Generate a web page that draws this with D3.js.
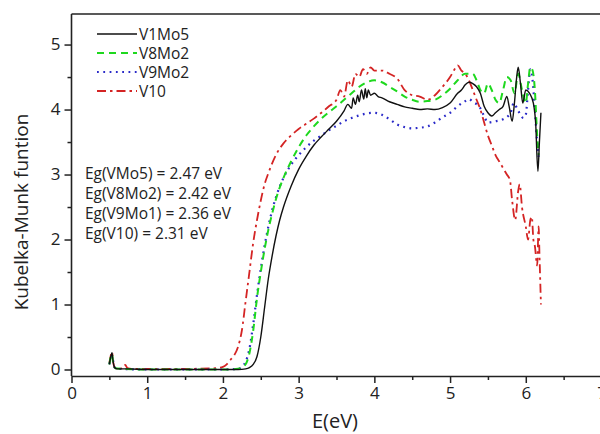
<!DOCTYPE html>
<html>
<head>
<meta charset="utf-8">
<script src="https://cdn.jsdelivr.net/npm/d3@7"></script>
<style>
  html, body { margin: 0; padding: 0; background: #fff; overflow: hidden; }
  svg { display: block; }
  text { font-family: "Open Sans", "Noto Sans", sans-serif; fill: #222; }
</style>
</head>
<body>
<svg id="chart" width="600" height="434"></svg>
<script>
// ---------- data ----------
const seriesNames = ["V1Mo5", "V8Mo2", "V9Mo2", "V10"];
const xTicks = [0, 1, 2, 3, 4, 5, 6, 7];
const yTicks = [0, 1, 2, 3, 4, 5];
const annotations = [
  "Eg(VMo5) = 2.47 eV",
  "Eg(V8Mo2) = 2.42 eV",
  "Eg(V9Mo1) = 2.36 eV",
  "Eg(V10) = 2.31 eV"
];

const v1mo5 = [
  [0.50,0.08],[0.52,0.20],[0.535,0.26],[0.55,0.12],[0.57,0.03],[0.60,0.01],[0.75,0.01],[1.0,0.0],[1.5,0.0],[2.0,0.0],
  [2.2,0.0],[2.3,0.01],[2.35,0.03],[2.4,0.08],[2.45,0.2],[2.5,0.5],[2.55,0.95],[2.6,1.4],[2.65,1.75],[2.7,2.05],
  [2.75,2.3],[2.8,2.5],[2.9,2.82],[3.0,3.08],[3.1,3.28],[3.2,3.45],[3.3,3.58],[3.4,3.7],[3.5,3.82],[3.6,3.98],
  [3.65,4.08],[3.7,4.02],[3.72,4.18],[3.75,4.08],[3.78,4.22],[3.8,4.12],[3.83,4.3],[3.86,4.16],[3.88,4.32],[3.9,4.18],
  [3.92,4.3],[3.95,4.22],[4.0,4.25],[4.05,4.2],[4.1,4.18],[4.2,4.12],[4.3,4.08],[4.4,4.04],[4.5,4.02],[4.6,4.0],
  [4.7,4.01],[4.8,4.0],[4.9,4.03],[5.0,4.1],[5.1,4.25],[5.15,4.3],[5.2,4.38],[5.25,4.42],[5.3,4.4],[5.35,4.35],
  [5.4,4.25],[5.45,4.05],[5.5,3.95],[5.55,3.9],[5.6,3.95],[5.65,4.0],[5.7,4.05],[5.75,4.2],[5.78,4.05],[5.82,3.82],
  [5.85,4.1],[5.88,4.5],[5.9,4.65],[5.93,4.4],[5.96,4.1],[6.0,4.3],[6.05,4.25],[6.1,4.1],[6.13,3.8],[6.16,3.05],
  [6.18,3.5],[6.2,3.95]
];
const v8mo2 = [
  [0.50,0.08],[0.52,0.2],[0.535,0.24],[0.55,0.1],[0.58,0.02],[0.7,0.01],[1.0,0.0],[2.0,0.0],[2.2,0.01],[2.25,0.03],
  [2.3,0.08],[2.35,0.25],[2.4,0.6],[2.45,1.1],[2.5,1.5],[2.55,1.85],[2.6,2.15],[2.65,2.4],[2.7,2.62],[2.8,2.95],
  [2.9,3.2],[3.0,3.42],[3.1,3.6],[3.2,3.74],[3.3,3.86],[3.4,3.96],[3.5,4.05],[3.6,4.15],[3.7,4.25],[3.8,4.35],
  [3.9,4.42],[4.0,4.45],[4.1,4.42],[4.2,4.35],[4.3,4.28],[4.4,4.2],[4.5,4.15],[4.6,4.12],[4.7,4.13],[4.8,4.15],
  [4.9,4.22],[5.0,4.32],[5.1,4.45],[5.2,4.55],[5.3,4.55],[5.35,4.45],[5.4,4.3],[5.45,4.25],[5.5,4.4],[5.55,4.3],
  [5.6,4.15],[5.65,4.1],[5.7,4.3],[5.75,4.5],[5.8,4.45],[5.85,4.25],[5.9,4.55],[5.95,4.3],[6.0,4.1],[6.03,4.4],
  [6.06,4.65],[6.09,4.6],[6.12,4.3],[6.15,3.6],[6.17,3.3]
];
const v9mo2 = [
  [0.50,0.08],[0.52,0.18],[0.54,0.2],[0.56,0.05],[0.6,0.01],[1.0,0.0],[2.0,0.0],[2.2,0.01],[2.25,0.04],[2.3,0.12],
  [2.35,0.32],[2.4,0.7],[2.45,1.15],[2.5,1.55],[2.55,1.9],[2.6,2.2],[2.65,2.45],[2.7,2.65],[2.8,2.95],[2.9,3.15],
  [3.0,3.3],[3.1,3.42],[3.2,3.52],[3.3,3.6],[3.4,3.68],[3.5,3.75],[3.6,3.82],[3.7,3.87],[3.8,3.91],[3.9,3.94],
  [4.0,3.95],[4.1,3.92],[4.2,3.85],[4.3,3.77],[4.4,3.73],[4.5,3.71],[4.6,3.72],[4.7,3.74],[4.8,3.8],[4.9,3.88],
  [5.0,3.95],[5.1,4.05],[5.2,4.13],[5.25,4.16],[5.3,4.12],[5.4,4.02],[5.45,3.9],[5.5,3.8],[5.6,3.82],[5.7,3.85],
  [5.8,3.95],[5.84,4.1],[5.9,3.98],[5.97,3.87],[6.0,3.92],[6.03,4.3],[6.06,4.62],[6.09,4.45],[6.12,4.0],[6.15,3.5],
  [6.17,3.27]
];
const v10 = [
  [0.50,0.1],[0.52,0.22],[0.535,0.27],[0.55,0.12],[0.57,0.03],[0.62,0.01],[0.68,0.02],[0.71,0.07],[0.74,0.02],[0.8,0.01],
  [1.0,0.01],[1.5,0.01],[1.9,0.02],[2.0,0.04],[2.05,0.08],[2.1,0.15],[2.15,0.22],[2.2,0.35],[2.25,0.6],[2.3,1.05],
  [2.35,1.5],[2.4,1.95],[2.45,2.3],[2.5,2.6],[2.55,2.85],[2.6,3.02],[2.7,3.3],[2.8,3.48],[2.9,3.6],[3.0,3.7],
  [3.1,3.78],[3.2,3.86],[3.3,3.95],[3.4,4.05],[3.5,4.15],[3.55,4.3],[3.6,4.2],[3.65,4.45],[3.7,4.35],[3.75,4.55],
  [3.8,4.5],[3.85,4.62],[3.9,4.55],[3.95,4.65],[4.0,4.6],[4.1,4.6],[4.2,4.55],[4.3,4.48],[4.4,4.3],[4.5,4.22],
  [4.6,4.2],[4.7,4.15],[4.8,4.22],[4.9,4.35],[5.0,4.5],[5.05,4.6],[5.1,4.68],[5.15,4.6],[5.2,4.55],[5.25,4.45],
  [5.3,4.3],[5.35,4.15],[5.4,4.0],[5.45,3.8],[5.5,3.6],[5.55,3.45],[5.6,3.3],[5.65,3.2],[5.7,3.1],[5.75,3.0],
  [5.79,2.92],[5.82,2.6],[5.86,2.3],[5.9,2.75],[5.92,2.85],[5.95,2.5],[6.0,2.2],[6.03,2.0],[6.06,2.3],[6.08,2.35],
  [6.1,2.0],[6.12,1.9],[6.15,1.6],[6.17,2.2],[6.18,1.8],[6.2,1.0]
];

// ---------- layout ----------
const svg = d3.select("#chart");
const mLeft = 71.5, mRight = 601.5, mTop = 14, mBottom = 376;
const x = d3.scaleLinear().domain([0, 7]).range([mLeft, mRight]);
const y = d3.scaleLinear().domain([-0.1, 5.47]).range([mBottom, mTop]);

const styles = [
  { data: v1mo5, color: "#111111", dash: null, width: 1.4 },
  { data: v8mo2, color: "#1ed81e", dash: "7,5", width: 2 },
  { data: v9mo2, color: "#2a2ac8", dash: "1.8,4.5", width: 2.2 },
  { data: v10, color: "#d42424", dash: "9,4,2.5,4", width: 1.8 }
];

const line = d3.line().x(d => x(d[0])).y(d => y(d[1])).curve(d3.curveMonotoneX);

[3, 2, 1, 0].forEach(i => {
  const s = styles[i];
  svg.append("path")
    .datum(s.data)
    .attr("fill", "none")
    .attr("stroke", s.color)
    .attr("stroke-width", s.width)
    .attr("stroke-dasharray", s.dash)
    .attr("stroke-linejoin", "round")
    .attr("d", line);
});

// frame top line
svg.append("line").attr("x1", mLeft).attr("x2", mRight).attr("y1", mTop).attr("y2", mTop)
  .attr("stroke", "#222").attr("stroke-width", 1.6);

// axes
const xMinor = d3.range(0.5, 7, 1);
const yMinor = d3.range(0.5, 5.5, 1);

svg.append("g").attr("transform", `translate(0,${mBottom})`)
  .call(d3.axisBottom(x).tickValues(xTicks).tickFormat(d3.format("d")).tickSize(7).tickPadding(4).tickSizeOuter(0));
svg.append("g").attr("transform", `translate(0,${mBottom})`)
  .call(d3.axisBottom(x).tickValues(xMinor).tickFormat("").tickSize(4).tickSizeOuter(0))
  .select(".domain").remove();

const yAxis = svg.append("g").attr("transform", `translate(${mLeft},0)`)
  .call(d3.axisLeft(y).tickValues(yTicks).tickFormat(d3.format("d")).tickSize(7).tickPadding(4).tickSizeOuter(0));
svg.append("g").attr("transform", `translate(${mLeft},0)`)
  .call(d3.axisLeft(y).tickValues(yMinor).tickFormat("").tickSize(4).tickSizeOuter(0))
  .select(".domain").remove();

yAxis.select(".domain").attr("d", `M0,${mTop}V${mBottom}`);

svg.selectAll(".tick line").attr("stroke", "#222").attr("stroke-width", 1.5);
svg.selectAll(".domain").attr("stroke", "#222").attr("stroke-width", 1.6);
svg.selectAll(".tick text").style("font-family", "'Open Sans', sans-serif").style("font-size", "17px").attr("fill", "#222");

// axis titles
svg.append("text").attr("x", 335).attr("y", 428).attr("text-anchor", "middle")
  .style("font-size", "20px").text("E(eV)");
svg.append("text").attr("transform", "translate(28,212) rotate(-90)").attr("text-anchor", "middle")
  .style("font-size", "19px").text("Kubelka-Munk funtion");

// legend
const legend = svg.append("g");
seriesNames.forEach((name, i) => {
  const yy = 34 + i * 19;
  const s = styles[i];
  legend.append("line").attr("x1", 97).attr("x2", 137).attr("y1", yy).attr("y2", yy)
    .attr("stroke", s.color).attr("stroke-width", s.width).attr("stroke-dasharray", s.dash);
  legend.append("text").attr("x", 139).attr("y", yy + 5.5).style("font-size", "15.5px").text(name);
});

// annotations
annotations.forEach((t, i) => {
  svg.append("text").attr("x", 85).attr("y", 179 + i * 20).style("font-size", "15.5px").text(t);
});
</script>
</body>
</html>
